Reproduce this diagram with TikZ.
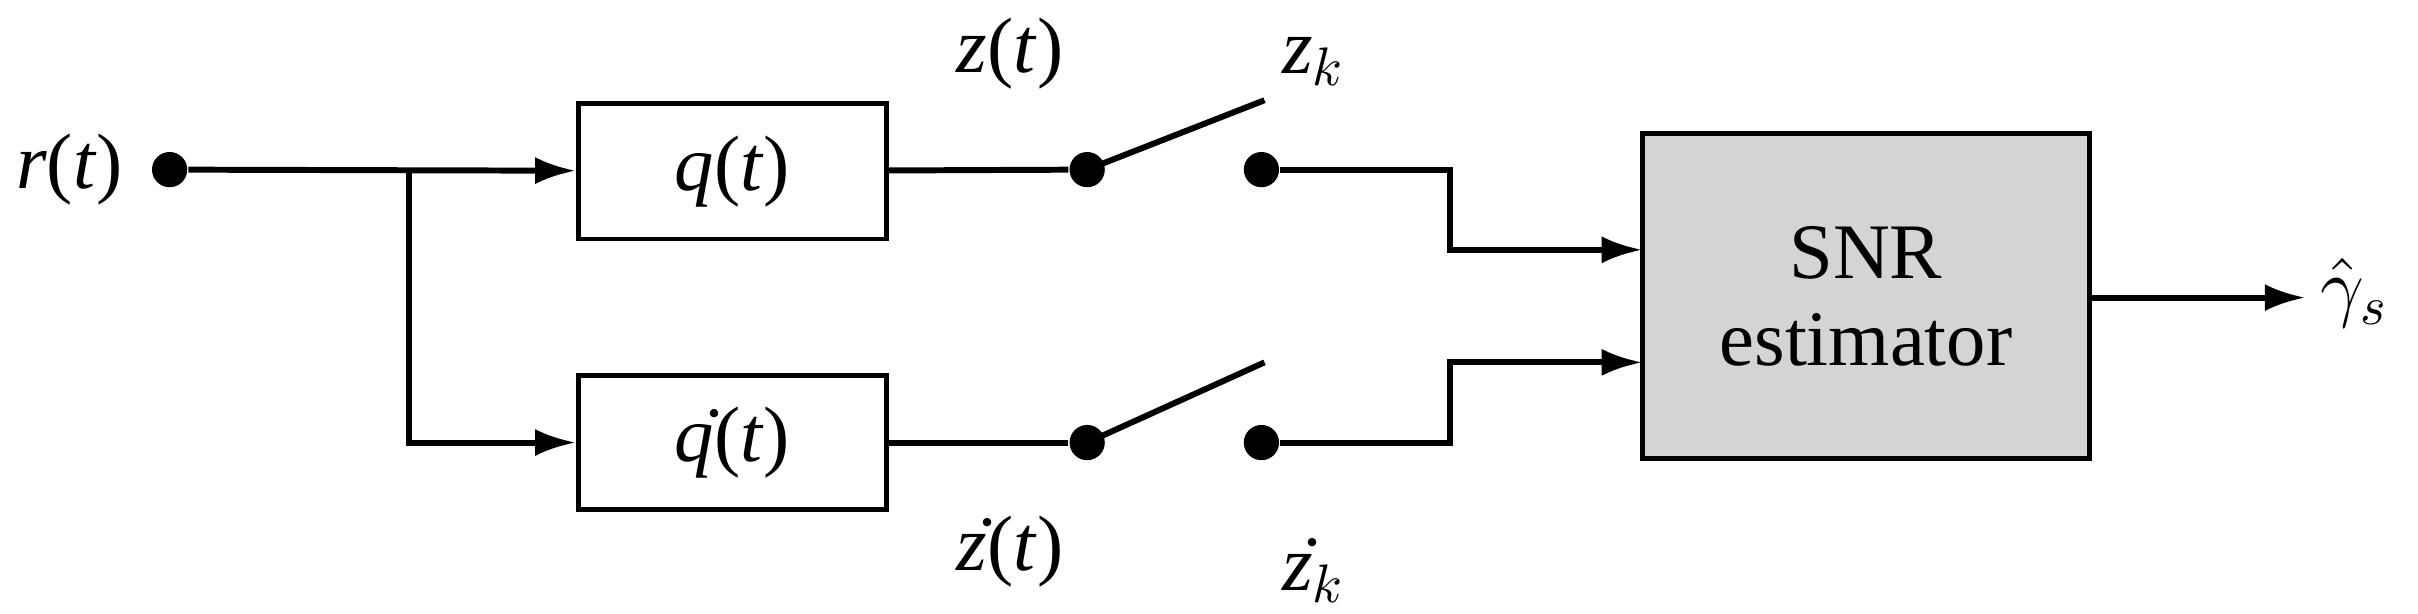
\documentclass[tikz,border=0pt]{standalone}
\usepackage{fontspec}
\setmainfont{Liberation Serif}
\usetikzlibrary{arrows.meta}
\newcommand{\iv}[1]{\textit{#1}}
\begin{document}
\begin{tikzpicture}[x=0.01cm,y=-0.01cm,
  ln/.style={line width=1.1pt},
  ar/.style={ln,-{Latex[length=7.5pt,width=5pt]}},
  dot/.style={circle,fill,inner sep=0pt,minimum size=6.5pt},
  lab/.style={font=\fontsize{14.5}{16}\selectfont},
  blk/.style={draw,line width=0.9pt,lab}]
\useasboundingbox (0,0) rectangle (1568,398);
\node[lab] (r) at (45,110) {\iv{r}(\iv{t})};
\node[dot] (d0) at (110,110) {};
\node[blk,minimum width=2cm,minimum height=0.88cm] (q) at (475,111) {\iv{q}(\iv{t})};
\node[blk,minimum width=2cm,minimum height=0.87cm] (qd) at (475,287) {\.{\iv{q}}(\iv{t})};
\coordinate (b) at (265,110);
\draw[ar] (d0) -- (q);
\draw[ar] (b) |- (qd);
\node[dot] (s1) at (705,110) {};
\node[dot] (s2) at (818,110) {};
\node[dot] (s3) at (705,287) {};
\node[dot] (s4) at (818,287) {};
\coordinate (t1) at (820,65);
\coordinate (t2) at (820,235);
\draw[ln] (q) -- (s1); \draw[ln] (s1.center) -- (t1);
\draw[ln] (qd) -- (s3); \draw[ln] (s3.center) -- (t2);
\node[blk,fill=black!17,minimum width=2.9cm,minimum height=2.11cm,align=center] (snr) at (1210,192) {SNR\\estimator};
\coordinate (i1) at (1065,162);
\coordinate (i2) at (1065,235);
\draw[ar] (s2) -- (940,110) -- (940,162) -- (i1);
\draw[ar] (s4) -- (940,287) -- (940,235) -- (i2);
\node[lab] (g) at (1527,190) {$\hat\gamma_s$};
\draw[ar] (snr.east |- 0,193) -- (1495,193);
\node[lab] at (655,35) {\iv{z}(\iv{t})};
\node[lab] at (852,40) {\iv{z}$_k$};
\node[lab] at (655,358) {\.{\iv{z}}(\iv{t})};
\node[lab] at (852,370) {\.{\iv{z}}$_k$};
\end{tikzpicture}
\end{document}
